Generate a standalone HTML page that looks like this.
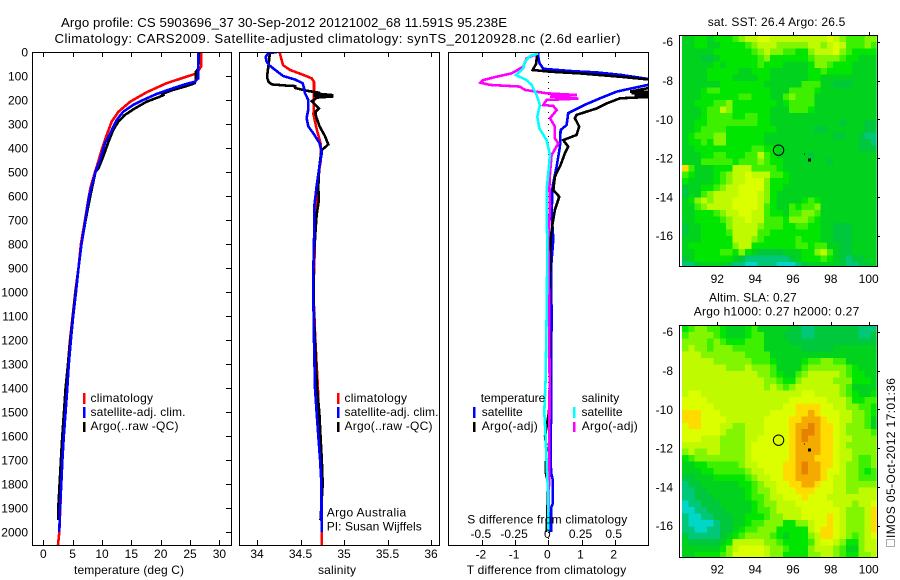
<!DOCTYPE html>
<html>
<head>
<meta charset="utf-8">
<title>Argo profile</title>
<style>
html,body{margin:0;padding:0;background:#fff;}
svg{display:block;font-family:"Liberation Sans",sans-serif;font-size:12px;fill:#000;}
.t13{font-size:13.2px;}
.ln{fill:none;stroke-width:2.6;stroke-linejoin:miter;shape-rendering:crispEdges;}
.fr{fill:none;stroke:#000;stroke-width:1;shape-rendering:crispEdges;}
.bar{shape-rendering:crispEdges;}
</style>
</head>
<body>
<svg id="chart" width="900" height="580" viewBox="0 0 900 580" xmlns="http://www.w3.org/2000/svg">
<defs>
<clipPath id="clipT"><rect x="33" y="52" width="198" height="493"/></clipPath>
<clipPath id="clipS"><rect x="240" y="52" width="199" height="493"/></clipPath>
<clipPath id="clipD"><rect x="449" y="52" width="199" height="493"/></clipPath>
<clipPath id="clipM1"><rect x="682" y="35" width="194.7" height="231"/></clipPath>
<clipPath id="clipM2"><rect x="682" y="325" width="194.7" height="232"/></clipPath>
</defs>

<text class="t13" x="61" y="27" textLength="446" lengthAdjust="spacing">Argo profile: CS 5903696_37 30-Sep-2012 20121002_68 11.591S 95.238E</text>
<text class="t13" x="54.5" y="43" textLength="566" lengthAdjust="spacing">Climatology: CARS2009. Satellite-adjusted climatology: synTS_20120928.nc (2.6d earlier)</text>

<g id="linesT" clip-path="url(#clipT)"></g>
<g id="linesS" clip-path="url(#clipS)"></g>
<g id="linesD" clip-path="url(#clipD)"></g>
<g id="ticks"></g>

<rect class="fr" x="32.5" y="52.5" width="199" height="493"/>
<rect class="fr" x="239.5" y="52.5" width="200" height="493"/>
<rect class="fr" x="448.5" y="52.5" width="200" height="493"/>

<text x="74" y="574" textLength="110" lengthAdjust="spacing">temperature (deg C)</text>
<text x="318" y="574" textLength="38" lengthAdjust="spacing">salinity</text>
<text x="466.7" y="574" textLength="159.5" lengthAdjust="spacing">T difference from climatology</text>
<text x="467.3" y="523.3" textLength="160" lengthAdjust="spacing">S difference from climatology</text>

<g>
<rect class="bar" x="83" y="393" width="2.5" height="11" fill="#f00"/>
<rect class="bar" x="83" y="407" width="2.5" height="11" fill="#00f"/>
<rect class="bar" x="83" y="422" width="2.5" height="10" fill="#000"/>
<text x="90.5" y="402" textLength="62.5" lengthAdjust="spacing">climatology</text>
<text x="90.5" y="416" textLength="95" lengthAdjust="spacing">satellite-adj. clim.</text>
<text x="90.5" y="430" textLength="88" lengthAdjust="spacing">Argo(..raw -QC)</text>
</g>
<g>
<rect class="bar" x="337" y="393" width="2.5" height="11" fill="#f00"/>
<rect class="bar" x="337" y="407" width="2.5" height="11" fill="#00f"/>
<rect class="bar" x="337" y="422" width="2.5" height="10" fill="#000"/>
<text x="344.5" y="402" textLength="62.5" lengthAdjust="spacing">climatology</text>
<text x="344.5" y="416" textLength="94" lengthAdjust="spacing">satellite-adj. clim.</text>
<text x="344.5" y="430" textLength="88" lengthAdjust="spacing">Argo(..raw -QC)</text>
<text x="326.7" y="516.7" textLength="79.5" lengthAdjust="spacing">Argo Australia</text>
<text x="326.7" y="530.7" textLength="95" lengthAdjust="spacing">PI: Susan Wijffels</text>
</g>
<g>
<text x="480.7" y="402" textLength="64.6" lengthAdjust="spacing">temperature</text>
<text x="581.7" y="402" textLength="37.5" lengthAdjust="spacing">salinity</text>
<rect class="bar" x="473" y="407" width="2.5" height="11" fill="#00f"/>
<rect class="bar" x="473" y="422" width="2.5" height="10" fill="#000"/>
<rect class="bar" x="573" y="407" width="2.5" height="11" fill="#0ff"/>
<rect class="bar" x="573" y="422" width="2.5" height="10" fill="#f0f"/>
<text x="481.7" y="416" textLength="41" lengthAdjust="spacing">satellite</text>
<text x="481.7" y="430" textLength="56" lengthAdjust="spacing">Argo(-adj)</text>
<text x="581.5" y="416" textLength="41" lengthAdjust="spacing">satellite</text>
<text x="581.7" y="430" textLength="56" lengthAdjust="spacing">Argo(-adj)</text>
</g>

<g id="map1" clip-path="url(#clipM1)"></g>
<g id="map2" clip-path="url(#clipM2)"></g>
<rect class="fr" x="679.5" y="35.5" width="198" height="231"/>
<rect class="fr" x="679.5" y="325.5" width="198" height="232"/>
<g id="mapMarks"></g>

<text x="707.7" y="26" textLength="137.6" lengthAdjust="spacing">sat. SST: 26.4  Argo: 26.5</text>
<text x="709" y="301.7" textLength="87.7" lengthAdjust="spacing">Altim. SLA: 0.27</text>
<text x="693.7" y="315.7" textLength="165.6" lengthAdjust="spacing">Argo h1000: 0.27 h2000: 0.27</text>

<g transform="translate(895,547) rotate(-90)">
<rect x="0.5" y="-8.5" width="7" height="8" fill="none" stroke="#555" stroke-width="1" stroke-dasharray="1 1"/>
<text x="9" y="0" textLength="160" lengthAdjust="spacing">IMOS 05-Oct-2012 17:01:36</text>
</g>
</svg>

<script>
/* ---- axis tick values ---- */
const depthTicks = [0,100,200,300,400,500,600,700,800,900,1000,1100,1200,1300,1400,1500,1600,1700,1800,1900,2000];
const tempTicks = [0,5,10,15,20,25,30];
const salTicks = [34,34.5,35,35.5,36];
const salTickLabels = ["34","34.5","35","35.5","36"];
const dtTicks = [-2,-1,0,1,2];
const dsTicks = [-0.5,-0.25,0,0.25,0.5];
const dsTickLabels = ["-0.5","-0.25","0","0.25","0.5"];
const lonTicks = [92,94,96,98,100];
const latTicks = [-6,-8,-10,-12,-14,-16];

/* ---- temperature profiles ---- */
const climTempDepth = [0,60,89,103,130,168,207,249,290,346,408,478,500,560,610,700,800,900,1000,1100,1200,1300,1400,1500,1600,1700,1800,1900,2000,2054];
const climTempValues = [26.9,26.9,26.1,24.4,21.0,17.6,14.8,12.8,11.65,10.8,9.95,9.1,8.8,8.1,7.7,7.1,6.4,6.0,5.45,5.0,4.55,4.2,3.87,3.6,3.4,3.2,3.05,2.9,2.73,2.5];
const satTempDepth = [0,110,124,133,151,175,200,221,249,283,339,380,450,484,500,600,700,800,900,1000,1100,1200,1300,1400,1500,1600,1700,1800,1900,2000];
const satTempValues = [26.4,26.4,25.8,24.4,22.1,19.3,17.0,15.3,13.6,12.5,11.4,10.5,9.66,9.1,8.9,7.8,7.15,6.5,6.0,5.57,5.1,4.7,4.35,4.09,3.8,3.5,3.25,3.07,2.85,2.73];
const argoTempDepth = [0,70,82,116,130,142,158,175,180,186,207,235,262,290,325,374,436,484,500,600,700,800,900,1000,1100,1200,1300,1400,1500,1600,1700,1800,1900,1950];
const argoTempValues = [26.5,26.4,26.0,26.0,25.8,24.4,22.1,20.2,20.4,19.9,17.6,15.6,13.9,12.8,11.9,11.1,10.2,9.4,8.9,8.0,7.2,6.5,6.0,5.5,5.05,4.6,4.2,3.8,3.52,3.24,3.0,2.78,2.55,2.55];

/* ---- salinity profiles ---- */
const climSalDepth = [0,30,55,75,95,110,125,200,260,320,380,450,500,600,700,800,1000,1200,1400,1600,1800,2054];
const climSalValues = [34.26,34.28,34.30,34.38,34.53,34.63,34.655,34.655,34.65,34.685,34.73,34.735,34.71,34.685,34.67,34.665,34.648,34.67,34.70,34.715,34.74,34.745];
const satSalDepth = [0,5,20,40,55,75,100,115,130,150,170,200,240,275,310,340,380,420,480,560,640,800,900,1040,1200,1400,1500,1600,1700,1800,2000];
const satSalValues = [34.23,34.13,34.10,34.11,34.14,34.21,34.30,34.44,34.525,34.54,34.55,34.59,34.59,34.57,34.59,34.65,34.72,34.745,34.716,34.685,34.66,34.655,34.648,34.648,34.655,34.667,34.685,34.705,34.725,34.74,34.743];
const argoSalDepth = [0,50,90,110,125,135,140,142,150,160,170,172,180,182,185,190,205,235,250,270,310,350,385,410,480,560,620,680,760,880,1100,1400,1500,1600,1700,1800,1950];
const argoSalValues = [34.15,34.135,34.12,34.12,34.135,34.17,34.34,34.44,34.44,34.55,34.72,34.65,34.88,34.65,34.88,34.69,34.63,34.71,34.67,34.68,34.72,34.78,34.82,34.74,34.716,34.705,34.71,34.685,34.67,34.648,34.655,34.69,34.716,34.73,34.745,34.755,34.73];

/* ---- difference profiles ---- */
const satDtDepth = [0,20,45,70,80,85,95,112,120,130,137,150,165,193,220,255,304,325,395,478,560,672,780,900,1100,1367,1500,1600,1750,1780,1880,1900,2000];
const satDtValues = [-0.30,-0.30,-0.27,-0.15,0.75,1.46,2.16,3.0,5,5,3.0,2.56,2.06,1.56,1.1,0.6,0.55,0.37,0.35,0.25,0.13,0.1,0.15,0.08,0.1,0.08,0.09,0.07,0.08,0.13,0.14,0.08,0.08];
const argoDtDepth = [0,28,50,75,82,89,103,114,120,145,151,165,168,172,176,180,184,193,214,235,262,276,311,346,367,394,422,471,519,575,603,658,714,780,900,1100,1367,1500,1600,1650,1750,1800,2000];
const argoDtValues = [-0.35,-0.35,-0.37,-0.47,0.05,0.95,2.15,3,5,5,3,2.46,3.5,2.5,3.5,2.6,3.5,2.16,1.76,1.46,0.85,0.8,0.93,0.85,0.45,0.6,0.5,0.37,0.2,0.15,0.33,0.2,0.13,0.07,0.05,0.03,0.05,0.02,-0.1,-0.05,-0.08,0,-0.05];
const argoDsDepth = [6,26,61,89,103,117,128,137,144,158,172,179,186,194,200,221,225,242,276,311,360,381,429,506,561,644,780,1000,1367,1600,1800,1950];
const argoDsValues = [-0.075,-0.163,-0.188,-0.276,-0.39,-0.49,-0.51,-0.44,-0.214,-0.176,-0.013,0.214,0.013,0.226,-0.013,-0.038,0.038,0.063,0.013,0.05,0.05,0.075,0.025,0.013,0.008,0.013,0,0.005,0.01,0.008,0.005,0];
const satDsDepth = [6,17,40,68,96,117,137,179,221,269,318,367,429,506,575,672,780,1000,1367,1500,1600,1750,1850,2000];
const satDsValues = [-0.075,-0.138,-0.176,-0.188,-0.244,-0.163,-0.126,-0.088,-0.063,-0.083,-0.068,-0.013,0.013,0,-0.013,-0.013,-0.008,-0.01,-0.02,-0.03,-0.02,-0.01,0,0];

/* ---- zero reference and profile position ---- */
const zeroLineDepth = [0,2054];
const floatLon = [95.238];
const floatLat = [-11.591];
const trackLon = [96.62,96.88];
const trackLat = [-11.8,-12.1];

/* ---- satellite SST grid (colour levels) ---- */
const sstRows = [
[3,3,4,4,3,4,4,4,5,6,7,7,8,8,7,7,7,7,7,7,7,7,7,8,7,6,5,5,5,6,6],
[3,3,4,4,3,3,4,4,4,4,5,6,7,7,7,6,6,6,6,6,7,7,6,7,8,7,5,5,5,6,5],
[3,3,3,3,3,4,4,4,4,4,4,5,6,7,6,6,5,5,4,4,6,7,7,7,8,6,5,4,4,4,4],
[3,3,3,2,2,3,4,4,4,4,4,4,5,6,4,4,4,4,4,4,5,6,6,6,6,5,4,4,3,3,3],
[3,3,3,3,3,4,3,4,4,4,4,4,5,4,4,4,3,3,3,3,4,6,6,5,4,4,4,3,3,3,3],
[3,3,3,3,4,4,4,4,4,3,3,4,4,4,3,3,3,3,3,3,4,4,5,4,4,4,4,3,3,3,3],
[3,3,3,3,4,4,4,4,3,3,3,3,4,4,3,3,3,3,3,3,4,4,3,3,3,3,3,3,3,3,3],
[3,3,3,3,3,3,4,4,4,4,4,4,4,3,3,3,3,3,3,5,5,5,3,3,2,2,2,3,3,3,3],
[3,3,3,4,5,5,4,4,4,4,4,4,4,4,3,3,3,5,5,5,5,4,3,3,3,3,3,3,3,3,3],
[3,3,3,4,4,4,4,4,4,5,5,4,4,4,3,3,5,6,5,5,5,3,3,3,3,3,3,3,3,3,3],
[3,3,4,4,4,5,5,6,4,4,4,4,4,4,4,3,4,5,5,5,5,3,3,3,3,3,3,3,3,3,3],
[3,3,3,4,5,5,7,6,4,4,4,4,4,4,3,3,3,5,5,5,4,3,3,3,3,3,3,3,3,3,3],
[3,3,3,4,5,5,5,5,4,4,5,5,4,4,3,3,3,3,3,3,3,3,3,3,3,3,3,3,3,3,3],
[3,3,4,4,5,5,5,5,5,5,5,5,4,4,3,3,3,3,3,3,3,3,3,3,3,2,3,3,3,2,2],
[3,3,4,5,5,5,5,4,4,4,4,4,4,4,4,3,3,3,3,3,3,2,2,3,3,3,3,3,3,2,2],
[3,4,5,5,5,6,6,4,4,4,4,4,4,3,3,3,3,3,3,3,3,3,3,3,2,2,3,3,2,1,1],
[3,4,4,5,4,6,6,4,4,4,4,4,4,3,3,3,3,3,3,3,3,3,3,3,3,3,3,3,2,2,1],
[3,3,4,4,4,4,4,4,4,4,4,5,5,4,4,3,3,3,3,3,3,3,3,3,3,3,3,3,2,2,2],
[3,3,3,4,4,5,5,4,4,4,5,5,7,5,4,3,3,3,3,3,2,3,3,3,3,3,3,3,3,3,3],
[3,3,3,5,5,5,5,5,4,5,5,5,6,5,4,4,3,3,3,3,3,3,3,2,3,3,3,3,3,3,3],
[9,5,3,3,3,4,4,4,7,7,7,5,5,5,5,4,3,3,3,3,3,3,3,3,3,3,3,3,3,3,3],
[5,4,3,3,3,4,5,6,7,7,8,7,7,7,5,5,4,3,3,3,3,3,3,3,3,3,3,3,3,3,3],
[4,3,3,3,3,4,5,6,7,7,8,8,8,6,4,4,4,3,3,3,3,3,3,3,3,3,3,3,3,3,3],
[2,3,3,4,4,5,6,7,7,8,8,8,8,6,4,4,3,3,3,3,3,3,3,3,3,3,3,3,3,3,3],
[2,3,3,5,6,7,7,7,7,8,8,8,7,6,4,3,3,3,3,3,3,3,3,3,3,3,3,3,3,3,3],
[3,4,6,7,6,7,7,7,8,8,8,8,7,6,4,3,3,3,3,4,5,4,3,3,3,3,3,3,3,3,3],
[3,3,5,6,7,7,7,7,8,8,8,8,7,5,4,3,3,5,4,5,5,6,3,3,3,3,3,3,3,3,3],
[3,3,4,4,4,5,6,7,7,8,8,7,7,5,4,4,3,5,5,6,6,5,3,3,3,3,3,3,3,3,3],
[3,3,4,4,4,4,5,6,7,7,8,7,7,5,5,5,4,6,6,6,5,4,3,3,3,3,3,3,3,3,3],
[2,3,3,4,4,4,4,6,7,7,7,7,6,5,5,5,4,4,5,5,4,4,3,3,2,2,2,3,3,3,3],
[2,3,3,4,4,4,4,5,7,7,7,7,5,5,4,4,4,4,4,4,4,4,3,3,2,2,2,3,3,3,3],
[3,3,3,4,4,4,4,4,7,7,7,6,5,4,4,4,4,4,5,4,4,4,3,3,2,2,2,3,3,3,3],
[3,4,4,4,4,4,4,4,6,7,7,4,4,4,4,4,4,4,5,5,4,5,5,3,3,2,2,3,3,3,3],
[3,3,4,4,4,4,5,5,4,6,4,3,2,2,2,2,3,3,3,4,4,6,7,5,3,2,2,3,3,3,3],
[2,3,4,4,4,4,4,4,3,2,1,1,1,1,1,1,1,2,3,4,4,4,5,4,3,2,1,2,2,3,3],
[1,1,2,3,3,3,3,2,1,1,0,0,1,1,1,0,0,0,1,2,3,3,3,3,3,2,1,1,2,2,3]
];

/* ---- altimetric SLA grid (colour levels) ---- */
const slaRows = [
[4,5,6,6,5,5,4,3,3,3,4,5,3,3,3,3,3,2,2,1,1,2,2,2,2,2,2,2,1,1,1],
[5,6,6,6,6,5,4,3,3,3,4,5,5,3,3,3,2,2,2,1,1,2,2,2,2,2,2,2,1,1,2],
[6,6,6,6,5,6,5,4,4,4,5,5,5,3,3,3,3,2,2,2,2,2,2,2,2,2,2,2,2,2,2],
[6,7,6,6,5,6,6,6,5,5,5,5,5,3,3,3,3,3,3,2,2,2,2,2,3,3,3,3,3,3,3],
[7,7,7,6,6,6,6,6,6,6,5,5,5,5,3,3,3,3,3,3,3,3,3,3,3,3,3,3,3,3,3],
[7,7,7,7,7,6,6,6,6,6,6,5,5,5,4,3,3,3,3,4,5,5,6,6,5,5,3,3,3,3,3],
[7,7,7,7,7,7,7,6,6,6,7,6,6,6,5,3,3,3,3,5,6,6,6,6,6,6,5,4,3,3,3],
[7,7,7,7,7,7,7,7,7,7,7,7,6,6,5,4,3,3,5,6,7,7,7,7,7,6,5,4,4,3,3],
[7,7,7,7,7,7,7,7,7,7,7,7,7,6,6,5,4,4,6,7,7,7,7,7,6,6,6,4,4,4,3],
[7,7,7,7,7,7,7,7,7,7,7,7,7,6,7,6,5,6,7,7,7,7,7,7,7,6,5,3,3,3,3],
[7,8,8,7,7,7,7,7,7,7,7,7,7,7,7,7,7,7,7,8,8,7,7,7,7,6,5,4,3,3,4],
[8,8,8,8,7,7,7,7,7,7,7,7,7,7,7,7,7,8,8,8,8,8,8,7,7,7,6,4,4,5,5],
[8,8,8,8,8,7,7,7,7,7,7,7,7,7,7,7,8,8,9,9,9,9,8,8,7,7,6,6,5,5,4],
[9,9,9,8,8,8,7,7,7,7,7,7,7,7,8,8,8,8,9,9,10,9,8,8,8,7,7,6,6,5,4],
[9,9,9,8,8,8,8,7,7,7,7,7,7,8,8,8,8,9,9,10,10,10,9,8,8,7,7,6,6,5,3],
[8,9,9,8,8,8,7,7,6,6,7,7,7,8,8,8,8,9,10,10,11,10,9,9,8,7,6,6,6,5,3],
[8,8,8,8,8,8,7,6,6,6,7,7,7,8,8,8,8,9,10,11,11,10,9,9,8,7,6,6,6,6,5],
[8,8,8,7,7,7,6,6,6,6,7,7,8,8,8,8,8,9,10,11,10,10,9,9,8,7,7,6,6,6,6],
[7,7,7,7,7,7,6,6,6,6,7,8,8,8,8,8,8,9,10,10,10,10,9,9,8,7,6,6,6,6,6],
[6,7,6,6,7,7,6,6,6,6,7,8,8,8,8,8,8,9,10,10,10,10,9,9,8,7,7,6,6,6,6],
[4,5,6,6,6,6,6,6,6,6,7,8,8,8,8,8,8,9,10,10,10,9,9,9,8,7,7,6,5,5,6],
[3,3,4,4,5,5,5,5,5,6,7,7,8,8,8,8,9,9,10,11,10,10,9,9,8,7,6,6,5,5,6],
[3,3,3,4,4,5,5,5,5,5,6,7,7,8,8,8,9,9,10,11,10,10,9,8,8,7,6,6,5,4,5],
[2,2,3,3,3,4,4,4,4,4,5,6,7,7,8,8,9,9,10,10,10,10,9,8,7,7,6,6,5,5,5],
[1,2,2,3,3,3,3,3,3,4,4,5,6,7,7,8,8,9,9,10,10,9,8,8,7,7,6,6,6,6,6],
[1,1,2,2,3,3,3,3,3,3,4,5,6,6,7,8,8,8,9,9,9,8,8,8,7,7,6,6,7,7,7],
[1,1,2,2,2,3,3,3,3,3,4,5,5,6,7,7,8,8,8,9,8,8,8,7,7,7,7,7,7,7,7],
[0,1,1,2,2,2,3,3,3,3,3,4,5,6,6,7,7,7,8,8,8,8,8,8,7,7,7,6,7,7,8],
[0,0,1,1,2,2,2,3,3,3,3,4,5,5,6,7,7,7,7,8,8,8,8,8,8,7,6,6,6,7,9],
[1,0,0,1,1,2,2,2,3,3,4,4,4,5,6,6,7,7,7,8,8,8,8,9,8,7,6,6,6,7,9],
[1,0,0,0,0,1,2,2,3,3,4,5,5,6,6,6,4,4,6,6,7,8,8,9,8,7,6,6,6,7,9],
[1,1,0,0,1,1,2,2,3,4,5,5,6,6,6,4,4,4,4,4,7,8,9,9,8,7,6,6,6,7,9],
[2,1,1,1,1,1,2,3,4,5,6,6,6,6,5,4,3,4,4,4,6,7,9,9,8,7,6,5,6,7,8],
[3,2,2,2,2,2,3,4,7,7,7,7,7,6,6,5,4,4,4,4,5,7,8,8,7,6,4,4,6,7,7],
[3,3,3,3,3,3,4,6,7,8,8,8,8,7,6,6,5,4,4,4,6,7,7,7,6,5,3,3,6,7,7],
[3,3,4,4,4,4,5,6,8,8,8,8,8,7,6,6,4,4,4,4,6,6,7,7,6,5,4,4,6,6,7]
];

/* ---- colour ramp stops for the map levels ---- */
const rampLevels = [0,1,2,3,4,5,6,7,8,9,10,11];
const rampColors = ["#00d7c8","#00c878","#00c83c","#00d21e","#00e600","#3cf000","#82f500","#c0fa00","#dcff00","#ffdc00","#f5aa00","#e68200"];

const SVGNS = "http://www.w3.org/2000/svg";
const yDepth = d => 52 + 0.24 * d;
const xTemp = t => 43.3 + 5.87 * t;
const xSal = s => 257 + 87 * (s - 34);
const xDt = v => 548.3 + 33.2 * v;
const xDs = v => 548.3 + 132.8 * v;
const xLon = lon => 717.3 + 18.92 * (lon - 92);
const yLat1 = lat => 41.7 + 19.4 * (-6 - lat);
const yLat2 = lat => 331.7 + 19.4 * (-6 - lat);
const colorFor = v => rampColors[rampLevels.indexOf(Math.max(0, Math.min(11, Math.round(v))))];

function node(tag, attrs, parent) {
  const el = document.createElementNS(SVGNS, tag);
  for (const k in attrs) el.setAttribute(k, attrs[k]);
  parent.appendChild(el);
  return el;
}

function drawLine(parentId, depths, values, xFn, color, name) {
  const pts = depths.map((d, i) => xFn(values[i]).toFixed(1) + "," + yDepth(d).toFixed(1)).join(" ");
  const el = node("polyline", {points: pts, stroke: color, class: "ln"}, document.getElementById(parentId));
  
  
  return el;
}

drawLine("linesT", climTempDepth, climTempValues, xTemp, "#f00", "temperature-climatology-line");
drawLine("linesT", argoTempDepth, argoTempValues, xTemp, "#000", "temperature-argo-line");
drawLine("linesT", satTempDepth, satTempValues, xTemp, "#00f", "temperature-satellite-line");

drawLine("linesS", climSalDepth, climSalValues, xSal, "#f00", "salinity-climatology-line");
drawLine("linesS", argoSalDepth, argoSalValues, xSal, "#000", "salinity-argo-line");
drawLine("linesS", satSalDepth, satSalValues, xSal, "#00f", "salinity-satellite-line");

const zeroLine = drawLine("linesD", zeroLineDepth, zeroLineDepth.map(() => 0), xDt, "#000", "zero-difference-line");
zeroLine.setAttribute("style", "stroke-width:1");
zeroLine.setAttribute("stroke-dasharray", "1 5");
drawLine("linesD", satDtDepth, satDtValues, xDt, "#00f", "t-difference-satellite-line");
drawLine("linesD", argoDtDepth, argoDtValues, xDt, "#000", "t-difference-argo-line");
drawLine("linesD", argoDsDepth, argoDsValues, xDs, "#f0f", "s-difference-argo-line");
drawLine("linesD", satDsDepth, satDsValues, xDs, "#0ff", "s-difference-satellite-line");

const ticksG = document.getElementById("ticks");

function tickMark(x1, y1, x2, y2, name) {
  const el = node("line", {x1: x1, y1: y1, x2: x2, y2: y2, stroke: "#000", "stroke-width": 1, "shape-rendering": "crispEdges"}, ticksG);
  
  
  return el;
}
function tickLabel(x, y, str, anchor, name) {
  const el = node("text", {x: x, y: y, "text-anchor": anchor}, ticksG);
  el.textContent = str;
  
  
  return el;
}

depthTicks.forEach(d => {
  const y = Math.round(yDepth(d)) + 0.5;
  tickMark(226, y, 231, y, "depth-tick");
  tickLabel(28, yDepth(d) + 4.5, String(d), "end", "depth-tick-label");
});
tempTicks.forEach(t => {
  const x = Math.round(xTemp(t)) + 0.5;
  tickMark(x, 52, x, 57, "temperature-tick-top");
  tickMark(x, 540, x, 545, "temperature-tick-bottom");
  tickLabel(xTemp(t), 558, String(t), "middle", "temperature-tick-label");
});
salTicks.forEach((s, i) => {
  const x = Math.round(xSal(s)) + 0.5;
  tickMark(x, 52, x, 57, "salinity-tick-top");
  tickMark(x, 540, x, 545, "salinity-tick-bottom");
  tickLabel(xSal(s), 558, salTickLabels[i], "middle", "salinity-tick-label");
});
dtTicks.forEach(v => {
  const x = Math.round(xDt(v)) + 0.5;
  tickMark(x, 52, x, 57, "t-difference-tick-top");
  tickMark(x, 540, x, 545, "t-difference-tick-bottom");
  tickLabel(xDt(v) - 1, 558.3, String(v), "middle", "t-difference-tick-label");
});
dsTicks.forEach((v, i) => {
  tickLabel(xDs(v) - 1, 538, dsTickLabels[i], "middle", "s-difference-tick-label");
});

function drawMap(groupId, rows, top, cellName) {
  const g = document.getElementById(groupId);
  rows.forEach((row, i) => {
    row.forEach((v, j) => {
      const cell = node("rect", {
        x: (682 + 6.3 * j).toFixed(1), y: (top + 6.47 * i).toFixed(1),
        width: 6.9, height: 7, fill: colorFor(v), "shape-rendering": "crispEdges"
      }, g);
      
      
    });
  });
}
drawMap("map1", sstRows, 35.5, "sst-cell");
drawMap("map2", slaRows, 325.7, "sla-cell");

function mapAxes(yFn, frameTop, frameBottom, labelBase, prefix) {
  lonTicks.forEach(lon => {
    const x = Math.round(xLon(lon)) + 0.5;
    tickMark(x, frameTop - 3, x, frameTop, prefix + "-longitude-tick");
    tickLabel(xLon(lon), labelBase, String(lon), "middle", prefix + "-longitude-label");
  });
  latTicks.forEach(lat => {
    const y = Math.round(yFn(lat)) + 0.5;
    tickMark(877, y, 880, y, prefix + "-latitude-tick");
    tickLabel(673, yFn(lat) + 4.5, String(lat), "end", prefix + "-latitude-label");
  });
}
mapAxes(yLat1, 35, 266, 283, "sst");
mapAxes(yLat2, 325, 557, 573.3, "sla");

const marks = document.getElementById("mapMarks");
function drawMarkers(yFn, prefix) {
  const c = node("circle", {cx: xLon(floatLon[0]), cy: yFn(floatLat[0]), r: 5.2, fill: "none", stroke: "#000", "stroke-width": 1}, marks);
  
  
  const small = node("rect", {x: xLon(trackLon[0]) - 0.5, y: yFn(trackLat[0]) - 0.5, width: 1, height: 1, fill: "#000", "shape-rendering": "crispEdges"}, marks);
  
  
  const big = node("rect", {x: xLon(trackLon[1]) - 1.5, y: yFn(trackLat[1]) - 1.5, width: 3, height: 3, fill: "#000", "shape-rendering": "crispEdges"}, marks);
  
  
}
drawMarkers(yLat1, "sst");
drawMarkers(yLat2, "sla");
</script>
</body>
</html>
